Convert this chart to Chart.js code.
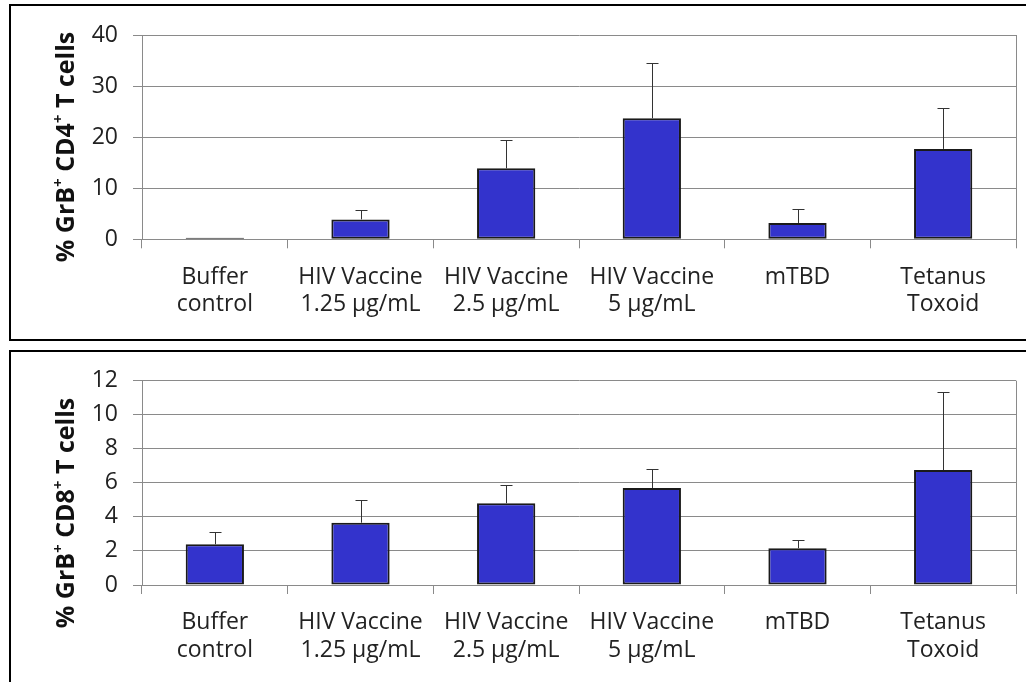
<!DOCTYPE html>
<html>
<head>
<meta charset="utf-8">
<script src="https://cdn.jsdelivr.net/npm/chart.js@4.4.1/dist/chart.umd.min.js"></script>
<style>
  html, body { margin: 0; padding: 0; background: #fff; overflow: hidden; }
  body { width: 1026px; height: 682px; position: relative; font-family: 'Open Sans', sans-serif; }
  .panel { position: absolute; left: 9px; width: 1100px; border: 2px solid #000; box-sizing: border-box; }
  canvas { position: absolute; left: 0; }
  .ytitle {
    position: absolute; white-space: nowrap; font-weight: bold; font-size: 25px; color: #111;
    transform: translate(-50%, -50%) rotate(-90deg); line-height: 1;
  }
  .ytitle sup { font-size: 0.6em; line-height: 0; position: relative; top: -0.1em; }
</style>
</head>
<body>
<div class="panel" style="top:4px;height:337px;"></div>
<div class="panel" style="top:350px;height:400px;"></div>
<canvas id="cd4" width="1026" height="340" style="top:0"></canvas>
<canvas id="cd8" width="1026" height="342" style="top:340px"></canvas>
<div class="ytitle" style="left:64px;top:147px;">% GrB<sup>+</sup> CD4<sup>+</sup> T cells</div>
<div class="ytitle" style="left:64px;top:513px;">% GrB<sup>+</sup> CD8<sup>+</sup> T cells</div>
<script>
// Stimulation conditions along the x axis
const categories = [
  ['Buffer', 'control'],
  ['HIV Vaccine', '1.25 µg/mL'],
  ['HIV Vaccine', '2.5 µg/mL'],
  ['HIV Vaccine', '5 µg/mL'],
  ['mTBD'],
  ['Tetanus', 'Toxoid']
];

// % GrB+ CD4+ T cells: means and upper error (SD)
const cd4Means = [0.3, 3.9, 13.9, 23.7, 3.2, 17.7];
const cd4Errors = [0, 1.8, 5.6, 10.8, 2.7, 8.0];
const cd4Ticks = [0, 10, 20, 30, 40];

// % GrB+ CD8+ T cells: means and upper error (SD)
const cd8Means = [2.39, 3.66, 4.80, 5.70, 2.16, 6.75];
const cd8Errors = [0.74, 1.35, 1.06, 1.13, 0.47, 4.59];
const cd8Ticks = [0, 2, 4, 6, 8, 10, 12];

const GRID = '#8a8a8a';
const TEXT = '#222';

// Draws the upper error whisker on every bar, using the chart's y scale
const errorBars = {
  id: 'errorBars',
  afterDatasetsDraw(chart, args, opts) {
    const ctx = chart.ctx;
    const yScale = chart.scales.y;
    const meta = chart.getDatasetMeta(0);
    const values = chart.data.datasets[0].data;
    ctx.save();
    ctx.strokeStyle = '#333';
    ctx.lineWidth = 1;
    meta.data.forEach((bar, i) => {
      const err = opts.errors[i];
      if (!err) return;
      const x = Math.round(bar.x) + 0.5;
      const yTop = Math.round(yScale.getPixelForValue(values[i] + err)) + 0.5;
      const yBase = bar.y;
      ctx.beginPath();
      ctx.moveTo(x, yBase);
      ctx.lineTo(x, yTop);
      ctx.moveTo(x - 6, yTop);
      ctx.lineTo(x + 6, yTop);
      ctx.stroke();
    });
    ctx.restore();
  }
};

function makeChart(id, means, errors, ticks, padTop, xHeight) {
  return new Chart(document.getElementById(id), {
    type: 'bar',
    data: {
      labels: categories,
      datasets: [{
        data: means,
        backgroundColor: '#3333cc',
        borderColor: '#1a1a1a',
        borderWidth: 2,
        borderSkipped: false,
        barPercentage: 0.4,
        categoryPercentage: 1.0
      }]
    },
    options: {
      responsive: false,
      animation: false,
      devicePixelRatio: 1,
      layout: { padding: { top: padTop, right: 10, left: 0, bottom: 0 } },
      plugins: {
        legend: { display: false },
        tooltip: { enabled: false },
        errorBars: { errors: errors }
      },
      scales: {
        x: {
          offset: true,
          grid: {
            offset: true,
            color: (c) => c.type === 'scale' ? GRID : 'rgba(0,0,0,0)',
            tickColor: GRID,
            tickLength: 9,
            lineWidth: 1
          },
          border: { color: GRID, width: 1 },
          ticks: {
            color: TEXT,
            padding: 15,
            maxRotation: 0,
            autoSkip: false,
            font: { family: "'Open Sans', sans-serif", size: 23, lineHeight: 1.2 }
          },
          afterFit: (s) => { s.height = xHeight; }
        },
        y: {
          min: ticks[0],
          max: ticks[ticks.length - 1],
          afterBuildTicks: (s) => { s.ticks = ticks.map(v => ({ value: v })); },
          grid: { color: GRID, tickColor: GRID, tickLength: 9, lineWidth: 1 },
          border: { color: GRID, width: 1 },
          ticks: {
            color: TEXT,
            padding: 15,
            font: { family: "'Open Sans', sans-serif", size: 23 }
          },
          afterFit: (s) => { s.width = 142; }
        }
      }
    },
    plugins: [errorBars]
  });
}

makeChart('cd4', cd4Means, cd4Errors, cd4Ticks, 35, 340 - 239.3);
makeChart('cd8', cd8Means, cd8Errors, cd8Ticks, 40.7, 342 - 245);
</script>
</body>
</html>
